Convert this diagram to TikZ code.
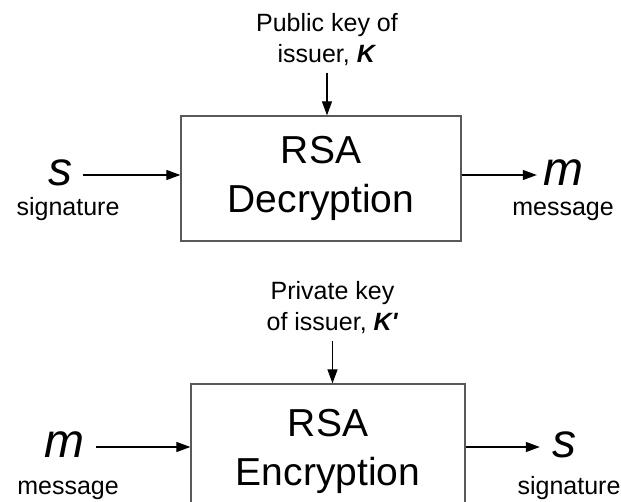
\documentclass[tikz,border=0pt]{standalone}
\usepackage{fontspec}
\setmainfont{Liberation Sans}
\usetikzlibrary{arrows.meta}
\begin{document}
\begin{tikzpicture}[x=1pt,y=-1pt,
  every node/.style={inner sep=0pt},
  lbl/.style={font=\fontsize{25}{31}\selectfont, align=center},
  var/.style={font=\fontsize{48}{48}\selectfont\itshape, text depth=5pt},
  proc/.style={draw=black!65, line width=1.3pt, align=center,
    font=\fontsize{39}{49}\selectfont},
  flow/.style={line width=1.2pt, -{Triangle[length=14pt,width=10pt]}},
]
\useasboundingbox (0,0) rectangle (621,502);
\clip (0,0) rectangle (621,502);

% Signature verification: decryption with the public key
\node[proc, minimum width=280pt, minimum height=125pt] (dec) at (321,178.5) {RSA\\Decryption};
\node[lbl] (pub) at (327,39.3) {Public key of\\issuer, \textbf{\textit{K}}};
\node[var] (sin) at (60,175) {s};
\node[var] (mout) at (563,175) {m};
\node[lbl, anchor=base] (sigtop) at (68,216) {signature};
\node[lbl, anchor=base] (msgtop) at (563,216) {message};

\draw[flow, shorten <=11pt] (sin.east) -- (sin.east -| dec.west);
\draw[flow, shorten >=6pt] (dec.east |- mout.west) -- (mout.west);
\draw[flow, shorten <=7pt] (pub.south) -- (pub.south |- dec.north);

% Signing: encryption with the private key
\node[proc, minimum width=274pt, minimum height=135pt] (enc) at (328,451.5) {RSA\\Encryption};
\node[lbl] (priv) at (332.5,307.8) {Private key\\of issuer, \textbf{\textit{K\textquotesingle}}};
\node[var] (min) at (64,447) {m};
\node[var] (sout) at (564,447) {s};
\node[lbl, anchor=base] (msgbot) at (68,494) {message};
\node[lbl, anchor=base] (sigbot) at (569,494) {signature};

\draw[flow, shorten <=12pt] (min.east) -- (min.east -| enc.west);
\draw[flow, shorten >=12pt] (enc.east |- sout.west) -- (sout.west);
\draw[flow, shorten <=7pt] (priv.south) -- (priv.south |- enc.north);
\end{tikzpicture}
\end{document}
